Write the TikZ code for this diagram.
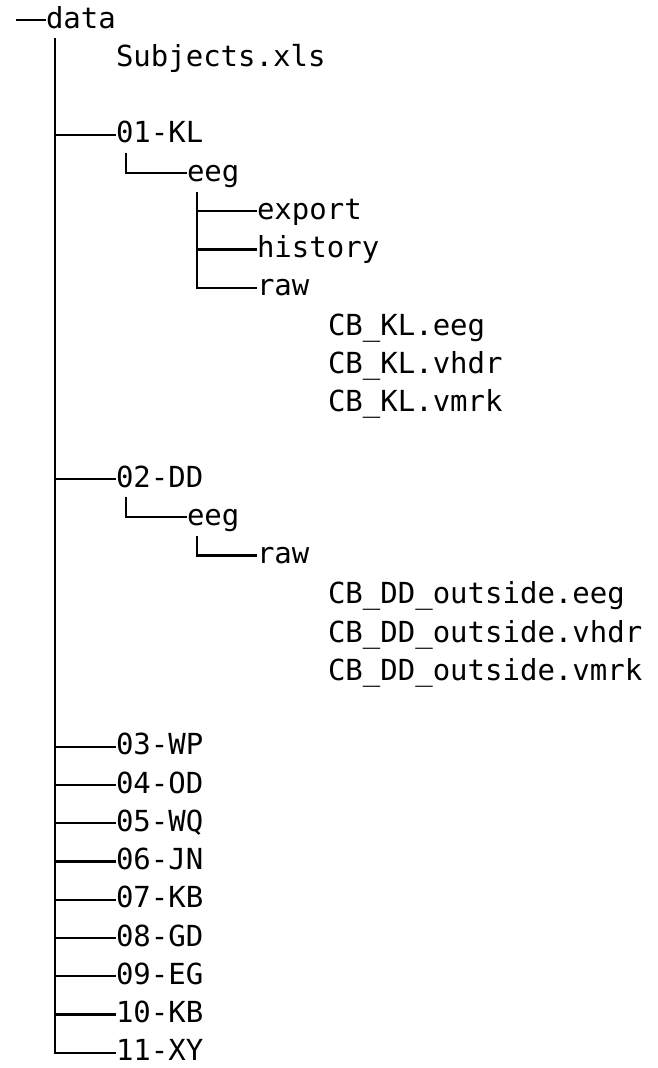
\documentclass[tikz,border=0pt]{standalone}
\usepackage{fontspec}
\setmonofont{DejaVu Sans Mono}
\begin{document}
\begin{tikzpicture}[x=1pt,y=-1pt,
  item/.style={anchor=west, inner sep=0pt, outer sep=0pt, text height=19pt, text depth=3pt,
               font=\fontsize{29}{29}\selectfont\ttfamily, text=black},
  conn/.style={line width=2.2pt, draw=black}]
\useasboundingbox[fill=white] (0,0) rectangle (657,1068);
\def\rs{38.25}
% level 0
\node[item] (data) at (46,20) {data};
% level 1
\node[item] (subj) at (116,{20+\rs*1}) {Subjects.xls};
\node[item] (kl)   at (116,{20+\rs*3}) {01-KL};
\node[item] (dd)   at (116,{20+\rs*12}) {02-DD};
\node[item] (wp)   at (116,{20+\rs*19}) {03-WP};
\node[item] (od)   at (116,{20+\rs*20}) {04-OD};
\node[item] (wq)   at (116,{20+\rs*21}) {05-WQ};
\node[item] (jn)   at (116,{20+\rs*22}) {06-JN};
\node[item] (kb)   at (116,{20+\rs*23}) {07-KB};
\node[item] (gd)   at (116,{20+\rs*24}) {08-GD};
\node[item] (eg)   at (116,{20+\rs*25}) {09-EG};
\node[item] (kbb)  at (116,{20+\rs*26}) {10-KB};
\node[item] (xy)   at (116,{20+\rs*27}) {11-XY};
% 01-KL subtree
\node[item] (kleeg)  at (187,{20+\rs*4}) {eeg};
\node[item] (klexp)  at (257,{20+\rs*5}) {export};
\node[item] (klhist) at (257,{20+\rs*6}) {history};
\node[item] (klraw)  at (257,{20+\rs*7}) {raw};
\node[item] (kf1) at (328,{20+\rs*8+1}) {CB\_KL.eeg};
\node[item] (kf2) at (328,{20+\rs*9+1}) {CB\_KL.vhdr};
\node[item] (kf3) at (328,{20+\rs*10+1}) {CB\_KL.vmrk};
% 02-DD subtree
\node[item] (ddeeg) at (187,{20+\rs*13}) {eeg};
\node[item] (ddraw) at (257,{20+\rs*14}) {raw};
\node[item] (df1) at (328,{20+\rs*15+2}) {CB\_DD\_outside.eeg};
\node[item] (df2) at (328,{20+\rs*16+2}) {CB\_DD\_outside.vhdr};
\node[item] (df3) at (328,{20+\rs*17+2}) {CB\_DD\_outside.vmrk};
% connectors
\coordinate (dstart) at (16,20);
\draw[conn] (dstart) -- (data.west);
\coordinate (trunk) at (55,38);
\draw[conn] (trunk) -- (trunk |- xy.west) -- (xy.west);
\foreach \n in {kl,dd,wp,od,wq,jn,kb,gd,eg,kbb}
  \draw[conn] (trunk |- \n.west) -- (\n.west);
\coordinate (klstem) at (126,153);
\draw[conn] (klstem) -- (klstem |- kleeg.west) -- (kleeg.west);
\coordinate (kleegstem) at (197,192);
\draw[conn] (kleegstem) -- (kleegstem |- klraw.west) -- (klraw.west);
\draw[conn] (kleegstem |- klexp.west) -- (klexp.west);
\draw[conn] (kleegstem |- klhist.west) -- (klhist.west);
\coordinate (ddstem) at (126,497);
\draw[conn] (ddstem) -- (ddstem |- ddeeg.west) -- (ddeeg.west);
\coordinate (ddeegstem) at (197,536);
\draw[conn] (ddeegstem) -- (ddeegstem |- ddraw.west) -- (ddraw.west);
\end{tikzpicture}
\end{document}
